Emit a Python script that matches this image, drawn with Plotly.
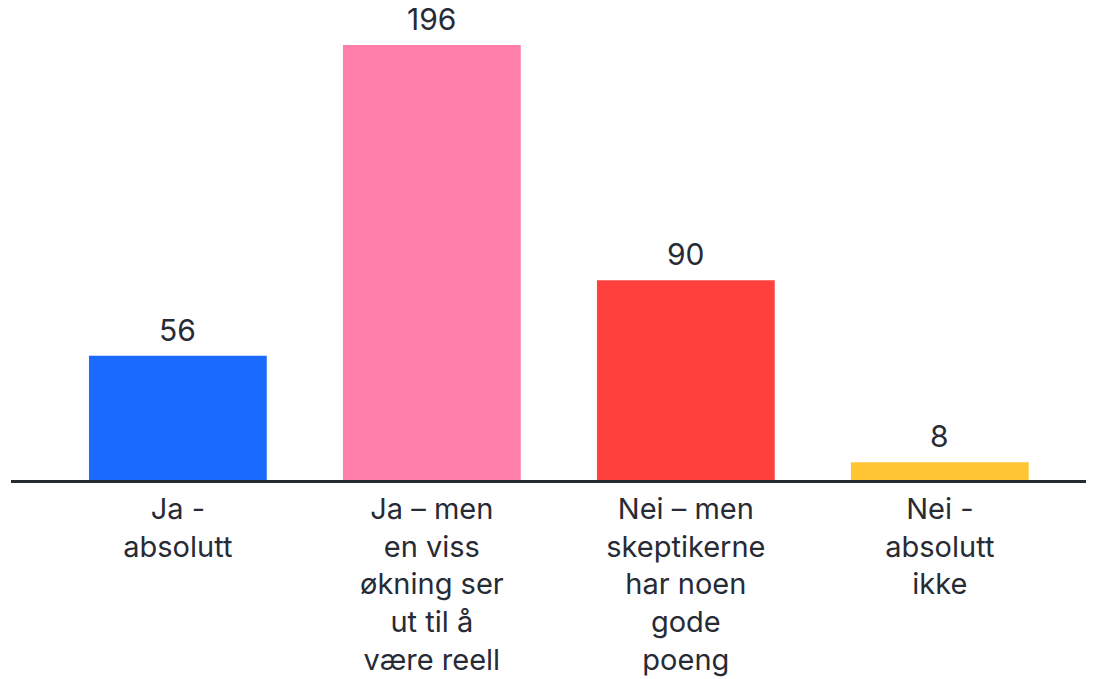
import plotly.graph_objects as go

categories = [
    "Ja -<br>absolutt",
    "Ja – men<br>en viss<br>økning ser<br>ut til å<br>være reell",
    "Nei – men<br>skeptikerne<br>har noen<br>gode<br>poeng",
    "Nei -<br>absolutt<br>ikke",
]
values = [56, 196, 90, 8]
colors = ["#1a6aff", "#ff7eaa", "#ff403c", "#ffc533"]

text_color = "#272b35"
font_family = "Inter, Lato, sans-serif"

fig = go.Figure()
fig.add_trace(go.Bar(
    x=list(range(len(values))),
    y=values,
    marker=dict(color=colors, line=dict(width=0)),
    width=0.70,
    hoverinfo="skip",
    cliponaxis=False,
))

for i, v in enumerate(values):
    fig.add_annotation(
        x=i, y=v, text=str(v), showarrow=False,
        yanchor="bottom", yshift=6,
        font=dict(size=30, color=text_color, family=font_family),
    )

fig.update_layout(
    width=1086, height=671,
    margin=dict(l=3, r=0, t=12, b=199, autoexpand=False),
    paper_bgcolor="white", plot_bgcolor="white",
    showlegend=False,
    xaxis=dict(
        range=[-0.657, 3.607],
        tickmode="array",
        tickvals=list(range(len(categories))),
        ticktext=categories,
        showgrid=False, zeroline=False,
        showline=True, linecolor="#262a33", linewidth=3,
        ticks="outside", ticklen=1, tickcolor="rgba(0,0,0,0)",
        tickfont=dict(size=29, color=text_color, family=font_family),
        automargin=False,
    ),
    yaxis=dict(
        range=[0, 207.3],
        visible=False,
        showgrid=False, zeroline=False,
        automargin=False,
    ),
)

fig.write_html("out.html")
